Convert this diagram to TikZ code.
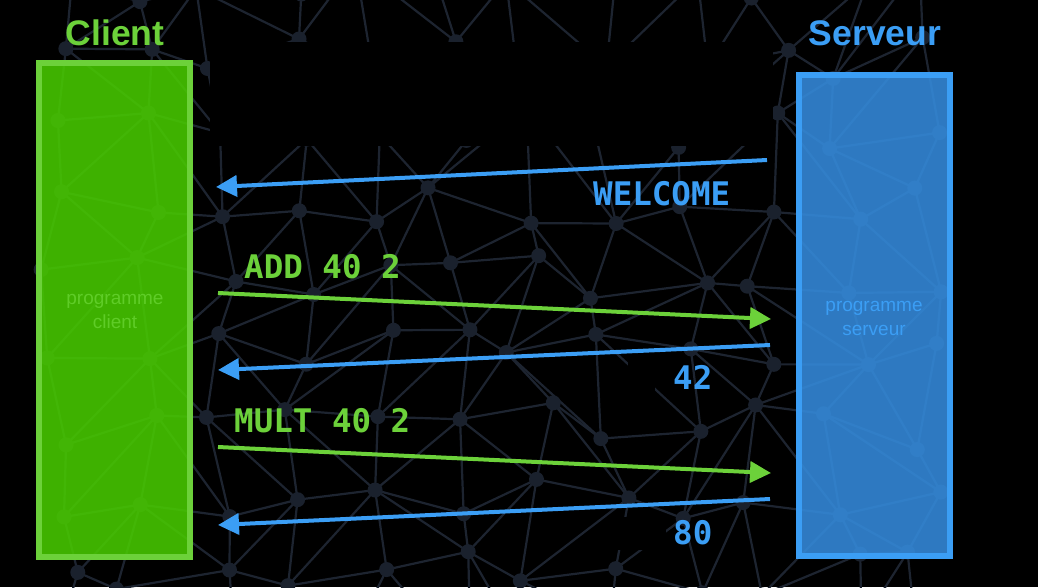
\documentclass[tikz,border=0pt]{standalone}
\usepackage{fontspec}
\setmainfont{Liberation Sans}
\newfontfamily\monob{DejaVu Sans Mono}[BoldFont={* Bold}]
\usetikzlibrary{arrows.meta}
\definecolor{cligreen}{HTML}{6CD13A}
\definecolor{clifill}{HTML}{48CC00}
\definecolor{srvblue}{HTML}{3B9EF5}
\definecolor{srvfill}{HTML}{358CDE}
\definecolor{meshline}{HTML}{1D2430}
\definecolor{meshdot}{HTML}{1A212D}
\tikzset{
  meshedge/.style={draw=meshline,line width=2.2pt},
  meshpt/.style={fill=meshdot},
  title/.style={font=\fontsize{35.5}{40}\selectfont\bfseries,inner sep=0pt},
  boxlabel/.style={font=\fontsize{19}{24}\selectfont,align=center,inner sep=0pt},
  msg/.style={font=\fontsize{32.5}{35}\selectfont\monob\bfseries,inner sep=0pt,anchor=base west},
  clientarrow/.style={draw=cligreen,line width=4pt,-{Triangle[length=21pt,width=21pt]}},
  serverarrow/.style={draw=srvblue,line width=4pt,-{Triangle[length=21pt,width=21pt]}},
}
\begin{document}
\begin{tikzpicture}[x=1pt,y=-1pt]
\useasboundingbox (0,0) rectangle (1038,587);
\fill[black] (0,0) rectangle (1038,587);
% background mesh
\begin{scope}
\clip (0,0) rectangle (1038,587);
\pgfmathsetseed{11}
\foreach \i in {0,...,11}{
  \foreach \j in {0,...,9}{
    \pgfmathsetmacro{\px}{56+\i*79+rand*24}
    \pgfmathsetmacro{\py}{-18+\j*74+rand*24}
    \coordinate (p-\i-\j) at (\px,\py);
  }
}
\foreach \i in {0,...,11}{
  \foreach \j in {0,...,9}{
    \pgfmathtruncatemacro{\ni}{\i+1}
    \pgfmathtruncatemacro{\nj}{\j+1}
    \ifnum\i<11 \draw[meshedge] (p-\i-\j) -- (p-\ni-\j); \fi
    \ifnum\j<9 \draw[meshedge] (p-\i-\j) -- (p-\i-\nj); \fi
    \ifnum\i<11 \ifnum\j<9
      \pgfmathtruncatemacro{\c}{rnd>0.5}
      \ifnum\c=1 \draw[meshedge] (p-\i-\j) -- (p-\ni-\nj);
      \else \draw[meshedge] (p-\ni-\j) -- (p-\i-\nj); \fi
    \fi\fi
  }
}
\foreach \i in {0,...,11}{
  \foreach \j in {0,...,9}{
    \fill[meshpt] (p-\i-\j) circle (7.5);
  }
}
\end{scope}
% black patches over the mesh
\fill[black] (210,42) rectangle (773,146);
\fill[black] (628,358) rectangle (655,402);
\fill[black] (613,517) rectangle (666,550);
% boxes
\node[title,text=cligreen,anchor=base] (clienttitle) at (115,45) {Client};
\node[title,text=srvblue,anchor=base] (servertitle) at (875,45) {Serveur};
\path[fill=clifill,fill opacity=0.87,draw=cligreen,line width=6pt]
  (39,63) rectangle (190,556.5);
\path[fill=srvfill,fill opacity=0.87,draw=srvblue,line width=6.5pt]
  (799,75) rectangle (950,556);
\node[boxlabel,text=cligreen!75!clifill,opacity=0.9] (clientlbl) at (115,311) {programme\\client};
\node[boxlabel,text=srvblue] (serverlbl) at (874,318) {programme\\serveur};
% message endpoints
\coordinate (s1) at (767,160);  \coordinate (c1) at (216,187);
\coordinate (c2) at (218,293);  \coordinate (s2) at (771,319);
\coordinate (s3) at (770,345);  \coordinate (c3) at (218,370);
\coordinate (c4) at (218,447);  \coordinate (s4) at (771,473);
\coordinate (s5) at (770,499);  \coordinate (c5) at (218,525);
\draw[serverarrow] (s1) -- (c1);
\draw[clientarrow] (c2) -- (s2);
\draw[serverarrow] (s3) -- (c3);
\draw[clientarrow] (c4) -- (s4);
\draw[serverarrow] (s5) -- (c5);
% labels
\node[msg,text=srvblue] (welcome) at (593,205) {WELCOME};
\node[msg,text=cligreen] (add) at (244,278) {ADD 40 2};
\node[msg,text=srvblue] (r42) at (673,389) {42};
\node[msg,text=cligreen] (mult) at (234,432) {MULT 40 2};
\node[msg,text=srvblue] (r80) at (673,544) {80};
\end{tikzpicture}
\end{document}
